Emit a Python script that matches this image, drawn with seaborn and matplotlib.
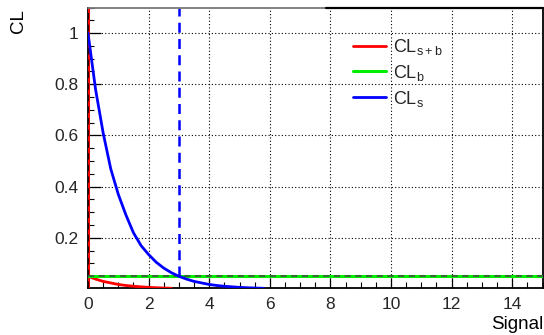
import matplotlib
matplotlib.use("Agg")
import matplotlib.pyplot as plt
import seaborn as sns
import pandas as pd
from matplotlib.lines import Line2D
from matplotlib.ticker import MultipleLocator, FixedLocator, FixedFormatter

sns.set_theme(style="white")
plt.rcParams["font.family"] = ["Liberation Sans", "DejaVu Sans"]
plt.rcParams["mathtext.fontset"] = "custom"
plt.rcParams["mathtext.rm"] = "Liberation Sans"
plt.rcParams["mathtext.it"] = "Liberation Sans"
plt.rcParams["mathtext.default"] = "regular"

# CL_s versus signal strength
cls_signal = [0, 0.25, 0.5, 0.75, 1, 1.25, 1.5, 1.75, 2, 2.25, 2.5, 2.75, 3,
              3.25, 3.5, 3.75, 4, 4.25, 4.5, 4.75, 5, 5.25, 5.5, 5.8]
cls_values = [1.0, 0.78, 0.61, 0.47, 0.37, 0.29, 0.22, 0.17, 0.135, 0.105,
              0.082, 0.064, 0.05, 0.039, 0.030, 0.024, 0.018, 0.014, 0.011,
              0.0087, 0.0067, 0.0052, 0.0041, 0.003]

# CL_s+b versus signal strength
clsb_signal = [0, 0.25, 0.5, 0.75, 1, 1.25, 1.5, 1.75, 2, 2.25, 2.5, 2.75]
clsb_values = [0.05, 0.039, 0.030, 0.024, 0.018, 0.014, 0.011, 0.0087,
               0.0068, 0.0053, 0.0041, 0.0032]

# CL_b (flat)
clb_signal = [0, 15]
clb_values = [0.05, 0.05]

# 95% CL upper limit on the signal
upper_limit = 3.0
cl_level = 0.05

x_ticks = [0, 2, 4, 6, 8, 10, 12, 14]
y_ticks = [0.2, 0.4, 0.6, 0.8, 1.0]
y_tick_labels = ["0.2", "0.4", "0.6", "0.8", "1"]

df_sb = pd.DataFrame({"Signal": clsb_signal, "CL": clsb_values})
df_b = pd.DataFrame({"Signal": clb_signal, "CL": clb_values})
df_s = pd.DataFrame({"Signal": cls_signal, "CL": cls_values})

W, H = 544, 335
fig = plt.figure(figsize=(W / 100, H / 100), dpi=100)
ax_l, ax_r, ax_t, ax_b = 88, 542.5, 7.5, 288.3
ax = fig.add_axes([ax_l / W, 1 - ax_b / H, (ax_r - ax_l) / W, (ax_b - ax_t) / H])

ax.set_xlim(0, 15)
ax.set_ylim(0.003, 1.1)

# grid
for xv in x_ticks[1:]:
    ax.axvline(xv, color="black", lw=0.8, ls=(0, (1, 2)), zorder=1)
for yv in y_ticks:
    ax.axhline(yv, color="black", lw=0.8, ls=(0, (1, 2)), zorder=1)

# vertical line at zero signal
ax.axvline(0, color="#ff0000", lw=2.2, zorder=3)
ax.axvline(0, color="black", lw=1.2, ls=(0, (4, 3)), zorder=4)

sns.lineplot(data=df_sb, x="Signal", y="CL", color="#ff0000", lw=2,
             label=r"$CL_{s+b}$", ax=ax, zorder=5)
sns.lineplot(data=df_b, x="Signal", y="CL", color="#00ee00", lw=2.2,
             label=r"$CL_{b}$", ax=ax, zorder=5)
sns.lineplot(data=df_s, x="Signal", y="CL", color="#0000ff", lw=2,
             label=r"$CL_{s}$", ax=ax, zorder=6)
# CL level marker
ax.axhline(cl_level, color="#444444", lw=1.1, ls=(0, (4, 3)), zorder=5)
ax.plot([upper_limit, upper_limit], [cl_level, 1.1], color="#0000ff",
        lw=1.8, ls=(0, (4, 2.5)), zorder=6)

# axes styling
for s in ["left", "bottom", "right"]:
    ax.spines[s].set_color("black")
    ax.spines[s].set_linewidth(1.3)
ax.spines["top"].set_visible(False)

# top frame: grey on the left part, black on the right part
y_top = 1 - ax_t / H
split = 326 / W
fig.add_artist(Line2D([ax_l / W, split], [y_top, y_top], color="#777777",
                      lw=1.3, zorder=10))
fig.add_artist(Line2D([split, ax_r / W], [y_top, y_top], color="black",
                      lw=1.6, zorder=10))

ax.xaxis.set_major_locator(FixedLocator(x_ticks))
ax.xaxis.set_minor_locator(MultipleLocator(0.5))
ax.yaxis.set_major_locator(FixedLocator(y_ticks))
ax.yaxis.set_major_formatter(FixedFormatter(y_tick_labels))
ax.yaxis.set_minor_locator(MultipleLocator(0.05))
ax.tick_params(axis="x", which="major", direction="in", length=7.5, width=0.9,
               color="black", labelsize=12.5, pad=6, bottom=True)
ax.tick_params(axis="x", which="minor", direction="in", length=4, width=0.8,
               color="black", bottom=True)
ax.tick_params(axis="y", which="major", direction="in", length=9, width=0.9,
               color="black", labelsize=12.5, pad=7, left=True)
ax.tick_params(axis="y", which="minor", direction="in", length=4.5, width=0.8,
               color="black", left=True)
ax.set_xlabel("")
ax.set_ylabel("")

fig.text(543 / W, 1 - 329 / H, "Signal", ha="right", va="baseline",
         fontsize=13.5, color="black")
fig.text(18.5 / W, 1 - 9 / H, "CL", rotation=90, ha="center", va="top",
         fontsize=13.5, color="black")

leg = ax.legend(loc="upper left", bbox_to_anchor=(353 / W, 1 - 37 / H),
                bbox_transform=fig.transFigure, frameon=False, fontsize=13,
                handlelength=1.8, handletextpad=0.4, labelspacing=0.32,
                borderpad=0, borderaxespad=0)

fig.savefig("out.png", dpi=100)
